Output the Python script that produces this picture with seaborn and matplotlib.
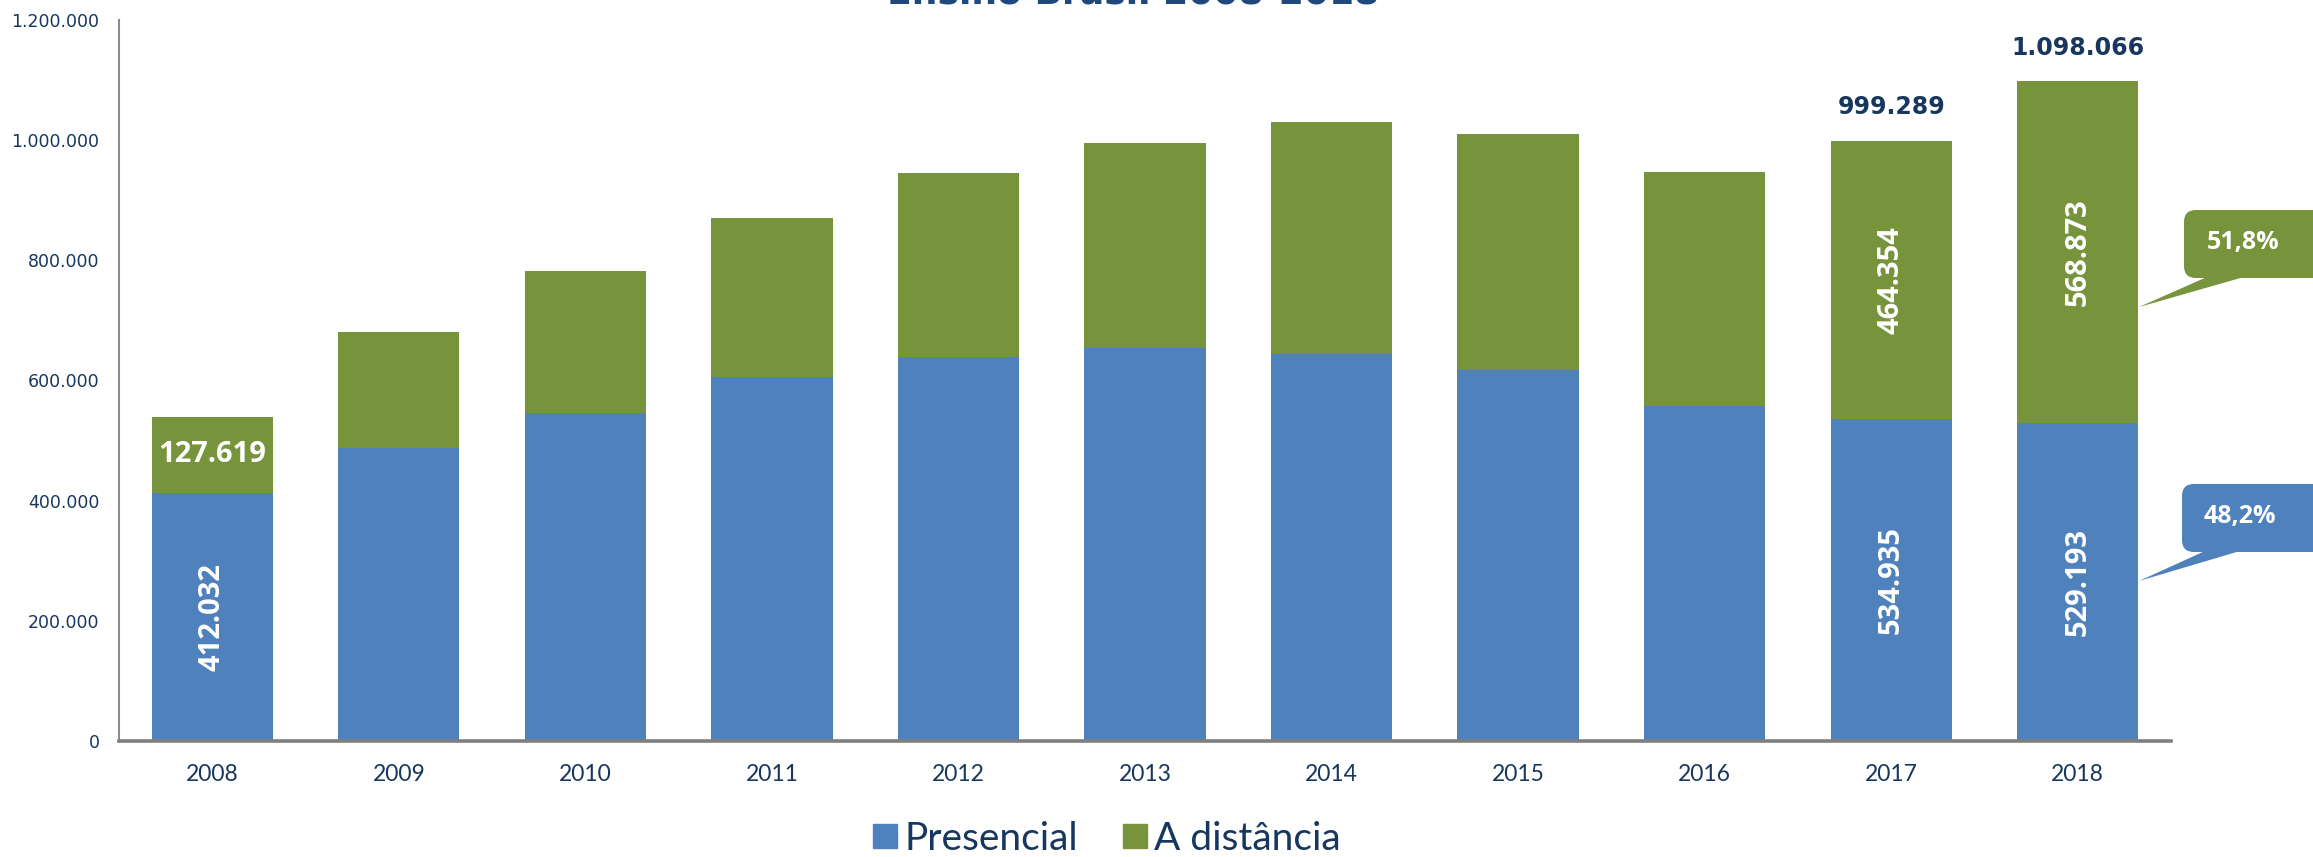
import matplotlib
matplotlib.use("Agg")
import matplotlib.pyplot as plt
import seaborn as sns
import pandas as pd
from matplotlib.patches import FancyBboxPatch, Polygon
from matplotlib.lines import Line2D
from matplotlib.ticker import FuncFormatter

# Dados
anos = ["2008", "2009", "2010", "2011", "2012", "2013", "2014", "2015", "2016", "2017", "2018"]
presencial = [412032, 487000, 546000, 605000, 639000, 654000, 644000, 617000, 558000, 534935, 529193]
distancia = [127619, 194000, 236000, 265000, 306000, 342000, 386000, 393000, 389000, 464354, 568873]
anos_rotulo = ["2008", "2017", "2018"]
anos_total = ["2017", "2018"]
pct_labels = ["51,8%", "48,2%"]

AZUL = "#4F81BD"
VERDE = "#77933C"
NAVY = "#17375E"

df = pd.DataFrame({"ano": anos, "Presencial": presencial, "A distância": distancia})
df["total"] = df["Presencial"] + df["A distância"]

def fmt(v):
    return f"{v:,.0f}".replace(",", ".")

sns.set_theme(style="white")
plt.rcParams["font.family"] = ["Lato", "DejaVu Sans"]

W, H = 2313, 857
fig = plt.figure(figsize=(W / 100, H / 100), dpi=100)
ax = fig.add_axes([119 / W, 1 - 740.7 / H, (2171 - 119) / W, (740.7 - 20.1) / H])

# barras empilhadas: total em verde por baixo, presencial em azul por cima
sns.barplot(data=df, x="ano", y="total", color=VERDE, width=0.65, saturation=1, ax=ax)
sns.barplot(data=df, x="ano", y="Presencial", color=AZUL, width=0.65, saturation=1, ax=ax)
for p in ax.patches:
    p.set_edgecolor("none")

ax.set_ylim(0, 1200000)
ax.set_xlim(-0.5, len(anos) - 0.5)
ax.set_yticks(range(0, 1200001, 200000))
ax.yaxis.set_major_formatter(FuncFormatter(lambda v, _: fmt(v)))
ax.set_xlabel("")
ax.set_ylabel("")

for s in ["top", "right"]:
    ax.spines[s].set_visible(False)
ax.spines["left"].set_color("#8C8C8C")
ax.spines["left"].set_linewidth(1.5)
ax.spines["bottom"].set_color("#7F7F7F")
ax.spines["bottom"].set_linewidth(2.6)

ax.tick_params(axis="y", length=0, pad=14, labelsize=12.5, labelcolor=NAVY)
ax.tick_params(axis="x", length=0, pad=17, labelsize=16.5, labelcolor=NAVY)
for t in ax.get_yticklabels():
    t.set_family("DejaVu Sans")

# rótulos dentro das barras
rot = dict(color="white", fontsize=21, fontweight="bold", family="Open Sans",
           ha="center", va="center")
for i, row in df.iterrows():
    if row["ano"] not in anos_rotulo:
        continue
    p, d = row["Presencial"], row["A distância"]
    ax.text(i, p / 2, fmt(p), rotation=90, **rot)
    if row["ano"] == "2008":
        ax.text(i, p + d / 2, fmt(d), **rot)
    else:
        ax.text(i, p + d / 2, fmt(d), rotation=90, **rot)

# totais acima
for i, row in df.iterrows():
    if row["ano"] in anos_total:
        ax.annotate(fmt(row["total"]), (i, row["total"]), xytext=(0, 24),
                    textcoords="offset points", ha="center", va="center",
                    color=NAVY, fontsize=17, fontweight="heavy", family="DejaVu Sans")

# balões com percentuais (coordenadas em pixels da figura)
def px(x, y):
    return (x / 100, (H - y) / 100)

def balao(x0, y0, y1, base, tip, cor, texto, tx, ty):
    bx, by = px(x0, y1)
    box = FancyBboxPatch((bx, by), 2.0, (y1 - y0) / 100,
                         boxstyle="round,pad=0,rounding_size=0.12",
                         transform=fig.dpi_scale_trans, fc=cor, ec="none")
    fig.add_artist(box)
    tri = Polygon([px(base[0], y1 - 1), px(base[1], y1 - 1), px(*tip)], closed=True,
                  transform=fig.dpi_scale_trans, fc=cor, ec="none")
    fig.add_artist(tri)
    fig.text(tx / W, 1 - ty / H, texto, ha="center", va="center",
             color="white", fontsize=18, fontweight="bold", family="Open Sans")

balao(2184, 210, 278, (2207, 2244), (2139, 307), VERDE, pct_labels[0], 2243, 242)
balao(2182, 484, 552, (2205, 2240), (2139, 581), AZUL, pct_labels[1], 2240, 517)

# legenda
handles = [Line2D([], [], marker="s", ls="none", markersize=17, color=AZUL, label="Presencial"),
           Line2D([], [], marker="s", ls="none", markersize=17, color=VERDE, label="A distância")]
leg = fig.legend(handles=handles, loc="center", bbox_to_anchor=(1106 / W, 1 - 839 / H),
                 ncol=2, frameon=False, fontsize=28, handletextpad=0.15, columnspacing=1.1,
                 handlelength=0.7)
for t in leg.get_texts():
    t.set_color(NAVY)

# título (cortado no topo, como no original)
fig.text(1133 / W, 1 - 3 / H, "Ensino Brasil 2008-2018", ha="center", va="baseline",
         fontsize=26, fontweight="bold", color="#1F497D", family="DejaVu Sans")

fig.savefig("out.png", dpi=100)
